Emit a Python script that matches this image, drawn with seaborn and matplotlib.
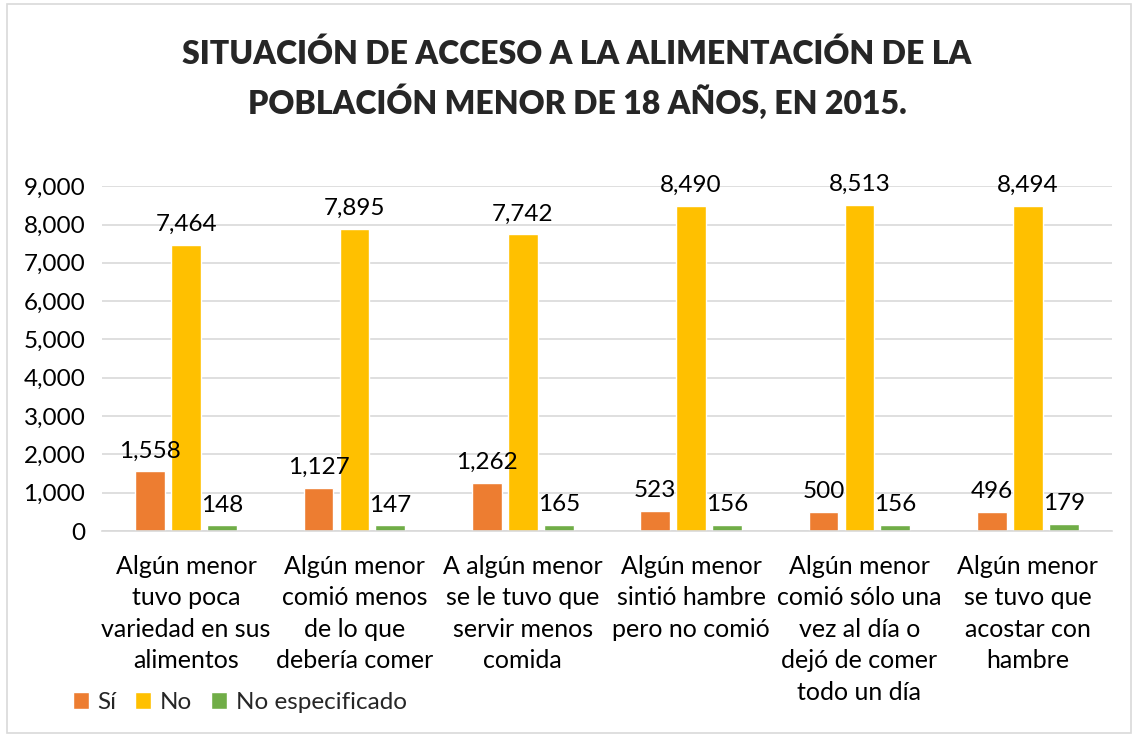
import pandas as pd
import seaborn as sns
import matplotlib.pyplot as plt
from matplotlib.patches import Rectangle
from matplotlib.ticker import FuncFormatter

categorias = [
    "Algún menor\ntuvo poca\nvariedad en sus\nalimentos",
    "Algún menor\ncomió menos\nde lo que\ndebería comer",
    "A algún menor\nse le tuvo que\nservir menos\ncomida",
    "Algún menor\nsintió hambre\npero no comió",
    "Algún menor\ncomió sólo una\nvez al día o\ndejó de comer\ntodo un día",
    "Algún menor\nse tuvo que\nacostar con\nhambre",
]
series = ["Sí", "No", "No especificado"]
si = [1558, 1127, 1262, 523, 500, 496]
no = [7464, 7895, 7742, 8490, 8513, 8494]
no_esp = [148, 147, 165, 156, 156, 179]
colores = ["#ED7D31", "#FFC000", "#70AD47"]

df = pd.DataFrame({
    "categoria": categorias * 3,
    "serie": [s for s in series for _ in categorias],
    "valor": si + no + no_esp,
})

sns.set_theme(style="white")
plt.rcParams['font.family'] = ['Lato', 'DejaVu Sans']

fig = plt.figure(figsize=(11.36, 7.36), dpi=100)
ax = fig.add_axes([0.0898, 0.2785, 0.889, 0.4685])

sns.barplot(data=df, x="categoria", y="valor", hue="serie", palette=colores,
            saturation=1, width=0.64, gap=0.17, ax=ax, legend=True)

for cont in ax.containers:
    ax.bar_label(cont, labels=[f"{v:,.0f}" for v in cont.datavalues],
                 padding=7, fontsize=17.5, color="#000000")

ax.set_ylim(0, 9000)
ax.set_yticks(range(0, 9001, 1000))
ax.yaxis.set_major_formatter(FuncFormatter(lambda v, p: f"{v:,.0f}"))
ax.grid(axis="y", color="#D9D9D9", linewidth=1.2)
ax.set_axisbelow(True)
for s in ["top", "right", "left"]:
    ax.spines[s].set_visible(False)
ax.spines["bottom"].set_color("#D9D9D9")
ax.spines["bottom"].set_linewidth(1.2)
ax.tick_params(axis="y", labelsize=17.5, length=0, pad=12, colors="#000000")
ax.tick_params(axis="x", labelsize=18, length=0, pad=17, colors="#000000")
for lbl in ax.get_xticklabels():
    lbl.set_linespacing(1.45)
ax.set_xlabel("")
ax.set_ylabel("")

handles, labels = ax.get_legend_handles_labels()
ax.get_legend().remove()
fig.legend(handles, labels, loc="center left", bbox_to_anchor=(0.064, 0.045),
           ncol=3, frameon=False, fontsize=17.5, handlelength=0.65, handleheight=0.7,
           handletextpad=0.35, columnspacing=0.8, borderpad=0, borderaxespad=0)

fig.text(0.508, 0.893, "SITUACIÓN DE ACCESO A LA ALIMENTACIÓN DE LA\nPOBLACIÓN MENOR DE 18 AÑOS, EN 2015.",
         ha="center", va="center", fontsize=23, fontweight="heavy", linespacing=1.45)

fig.patches.append(Rectangle((0.006, 0.004), 0.99, 0.99, transform=fig.transFigure,
                             fill=False, edgecolor="#D9D9D9", linewidth=1.2))

fig.savefig("out.png", dpi=100)
